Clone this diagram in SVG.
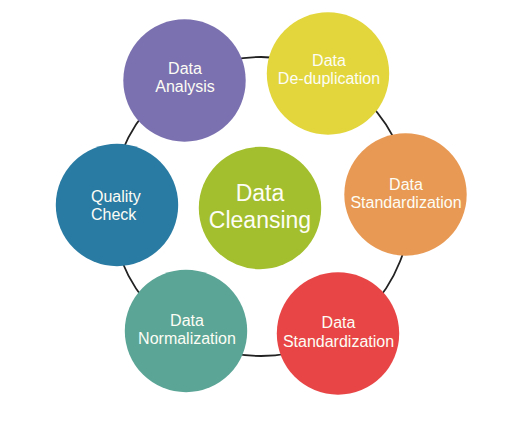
<svg xmlns="http://www.w3.org/2000/svg" width="525" height="423" viewBox="0 0 525 423">
<style>
.n text{font-family:"Liberation Sans",Arial,sans-serif;font-size:16px;fill:#fdfdf5;text-anchor:middle}
.big text{font-size:23px}
.ring{fill:none;stroke:#222;stroke-width:1.8}
</style>
<rect width="525" height="423" fill="#fff"/>
<g id="connectors">
<circle class="ring" cx="261" cy="206.5" r="149.5"/>
</g>
<g id="analysis" class="n"><circle cx="184.5" cy="80.5" r="61.2" fill="#7c71b0"/><text x="185" y="74">Data</text><text x="185" y="92">Analysis</text></g>
<g id="dedup" class="n"><circle cx="328" cy="73.5" r="61.2" fill="#e2d63c"/><text x="329" y="65.5">Data</text><text x="329" y="84">De-duplication</text></g>
<g id="std1" class="n"><circle cx="405.5" cy="194.5" r="61.2" fill="#e89954"/><text x="406" y="190">Data</text><text x="406" y="208">Standardization</text></g>
<g id="std2" class="n"><circle cx="338" cy="333.5" r="61.2" fill="#e84646"/><text x="338.5" y="327.5">Data</text><text x="338.5" y="346.5">Standardization</text></g>
<g id="norm" class="n"><circle cx="186" cy="331" r="61.2" fill="#5ba596"/><text x="187" y="326">Data</text><text x="187" y="344.3">Normalization</text></g>
<g id="quality" class="n"><circle cx="117" cy="205" r="61.2" fill="#2a7ba3"/><text x="91" y="201.7" style="text-anchor:start">Quality</text><text x="91" y="220" style="text-anchor:start">Check</text></g>
<g id="center" class="n big"><circle cx="260" cy="208" r="61.2" fill="#a3bf2d"/><text x="260" y="201">Data</text><text x="260" y="227.5">Cleansing</text></g>
</svg>
